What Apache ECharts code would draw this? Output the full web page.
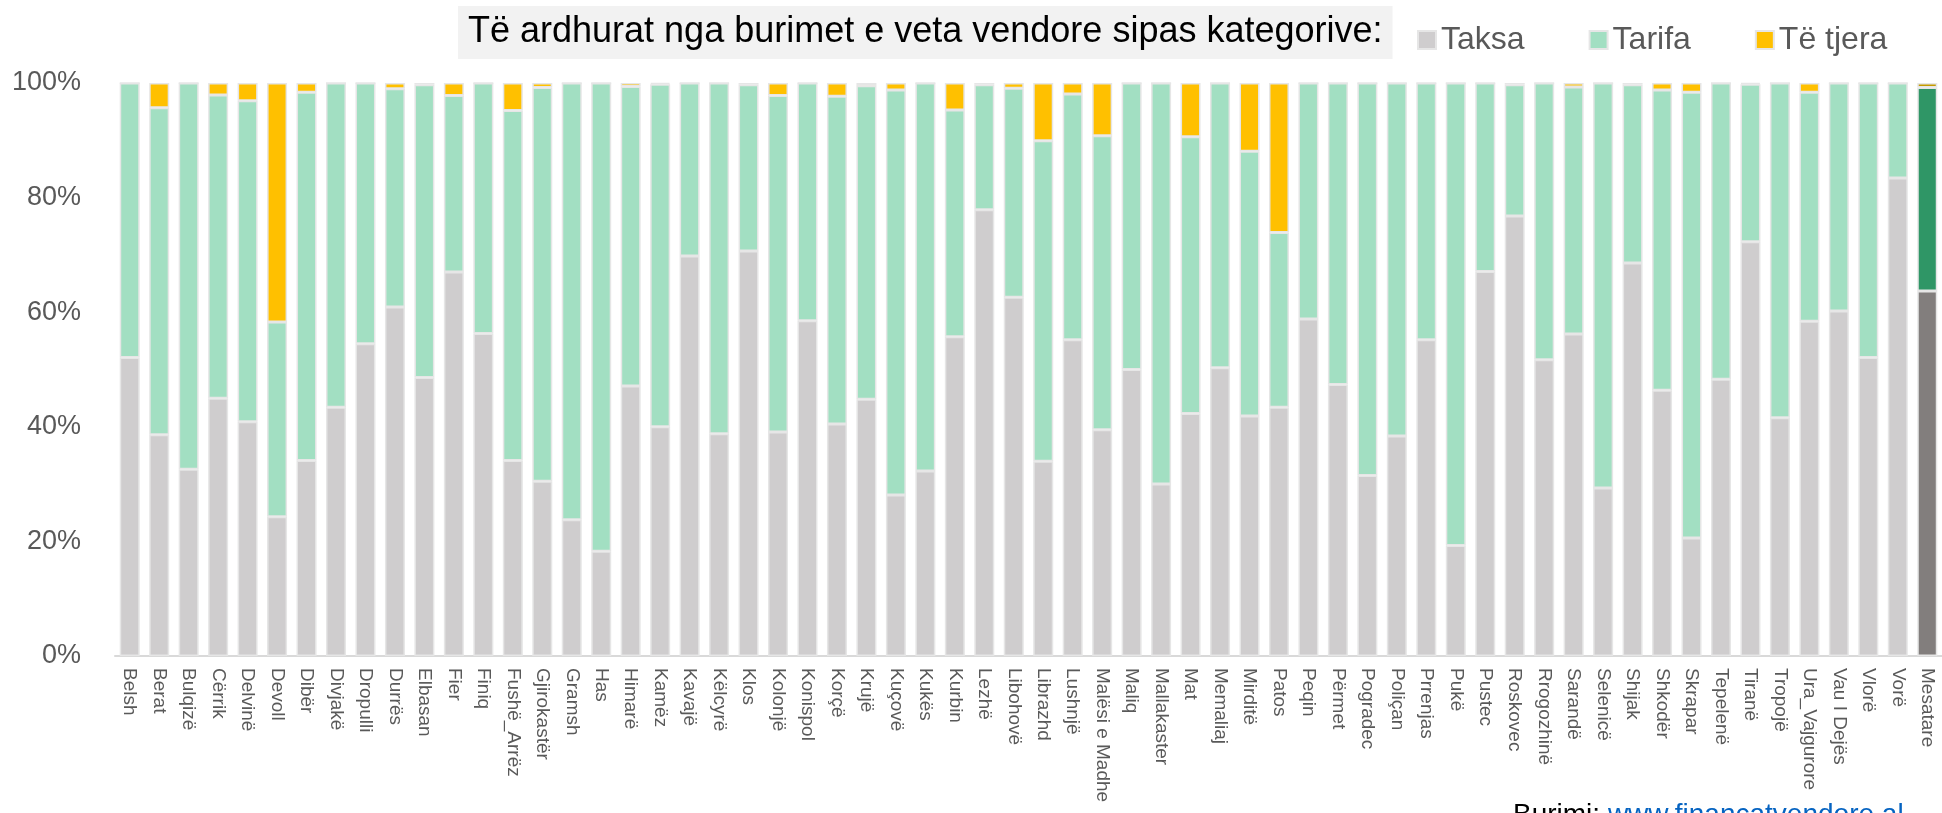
<!DOCTYPE html>
<html>
<head>
<meta charset="utf-8">
<script src="https://cdn.jsdelivr.net/npm/echarts@6/dist/echarts.min.js"></script>
<style>
html,body{margin:0;padding:0;background:#fff;}
#c{width:1942px;height:813px;}
</style>
</head>
<body>
<div id="c"></div>
<script>
var categories = ["Belsh","Berat","Bulqizë","Cërrik","Delvinë","Devoll","Dibër","Divjakë","Dropulli","Durrës","Elbasan","Fier","Finiq","Fushë_Arrëz","Gjirokastër","Gramsh","Has","Himarë","Kamëz","Kavajë","Këlcyrë","Klos","Kolonjë","Konispol","Korçë","Krujë","Kuçovë","Kukës","Kurbin","Lezhë","Libohovë","Librazhd","Lushnjë","Malësi e Madhe","Maliq","Mallakaster","Mat","Memaliaj","Mirditë","Patos","Peqin","Përmet","Pogradec","Poliçan","Prrenjas","Pukë","Pustec","Roskovec","Rrogozhinë","Sarandë","Selenicë","Shijak","Shkodër","Skrapar","Tepelenë","Tiranë","Tropojë","Ura_Vajgurore","Vau I Dejës","Vlorë","Vorë","Mesatare"];
var taksa = [52.1,38.6,32.6,45.0,40.9,24.3,34.1,43.4,54.5,60.9,48.6,67.0,56.3,34.1,30.5,23.8,18.3,47.1,40.0,69.8,38.8,70.7,39.1,58.5,40.5,44.8,28.1,32.3,55.7,77.9,62.6,34.0,55.2,39.5,50.0,30.0,42.3,50.3,41.9,43.4,58.8,47.4,31.5,38.4,55.2,19.3,67.1,76.8,51.7,56.2,29.3,68.6,46.4,20.6,48.3,72.3,41.6,58.4,60.2,52.1,83.4,63.7];
var tarifa = [47.9,57.1,67.4,52.9,56.0,34.0,64.3,56.6,45.5,38.1,51.1,30.8,43.7,61.1,68.7,76.2,81.7,52.3,59.8,30.2,61.2,29.0,58.7,41.5,57.2,54.7,70.7,67.7,39.6,21.8,36.5,55.9,42.9,51.3,50.0,70.0,48.3,49.7,46.2,30.5,41.2,52.6,68.5,61.6,44.8,80.7,32.9,22.9,48.3,43.1,70.7,31.1,52.4,77.8,51.7,27.5,58.4,40.0,39.8,47.9,16.6,35.5];
var teTjera = [0,4.3,0,2.1,3.1,41.7,1.6,0,0,1.0,0.3,2.2,0,4.8,0.8,0,0,0.6,0.2,0,0,0.3,2.2,0,2.3,0.5,1.2,0,4.7,0.3,0.9,10.1,1.9,9.2,0,0,9.4,0,11.9,26.1,0,0,0,0,0,0,0,0.3,0,0.7,0,0.3,1.2,1.6,0,0.2,0,1.6,0,0,0,0.8];
var yTicks = [0,20,40,60,80,100];

var sansF = '"Liberation Sans",Arial,sans-serif';

function mk(vals, avgColor){
  return vals.map(function(v,i){
    if (categories[i] === 'Mesatare') return {value:v, itemStyle:{color:avgColor}};
    return v;
  });
}

var chart = echarts.init(document.getElementById('c'));
var border = {borderColor:'#e6e6e6', borderWidth:1.5};
chart.setOption({
  animation:false,
  title:{
    text:'Të ardhurat nga burimet e veta vendore sipas kategorive:',
    left:458, top:6,
    backgroundColor:'#f2f2f2',
    padding:[8,10,9,10],
    textStyle:{fontFamily:sansF, fontSize:36, lineHeight:36, fontWeight:'normal', color:'#000'}
  },
  legend:{
    left:1412, top:19,
    itemWidth:18, itemHeight:18, itemGap:64,
    icon:'rect',
    textStyle:{fontFamily:sansF, fontSize:32, color:'#595959'},
    data:['Taksa','Tarifa','Të tjera']
  },
  grid:{left:115, top:83, width:1833, height:573, containLabel:false},
  xAxis:{
    type:'category', data:categories,
    axisLine:{lineStyle:{color:'#d9d9d9', width:2}},
    axisTick:{show:false},
    axisLabel:{rotate:-90, interval:0, margin:12, fontFamily:sansF, fontSize:19, color:'#595959'}
  },
  yAxis:{
    type:'value', min:yTicks[0], max:yTicks[yTicks.length-1], interval:yTicks[1]-yTicks[0],
    axisLine:{show:false}, axisTick:{show:false}, splitLine:{show:false},
    axisLabel:{formatter:'{value}%', margin:34, fontFamily:sansF, fontSize:27, color:'#595959'}
  },
  series:[
    {name:'Taksa', type:'bar', stack:'a', barWidth:20, data:mk(taksa,'#827e7d'), itemStyle:Object.assign({color:'#cfcdce'},border)},
    {name:'Tarifa', type:'bar', stack:'a', barWidth:20, data:mk(tarifa,'#2f9666'), itemStyle:Object.assign({color:'#a2dfc2'},border)},
    {name:'Të tjera', type:'bar', stack:'a', barWidth:20, data:mk(teTjera,'#c49a00'), itemStyle:Object.assign({color:'#ffc000'},border)}
  ],
  graphic:[{
    type:'text', left:1513, top:801,
    style:{
      text:'{a|Burimi: }{b|www.financatvendore.al}',
      rich:{
        a:{fill:'#000', fontSize:28, fontFamily:sansF},
        b:{fill:'#0563c1', fontSize:28, fontFamily:sansF}
      }
    }
  }]
});
</script>
</body>
</html>
